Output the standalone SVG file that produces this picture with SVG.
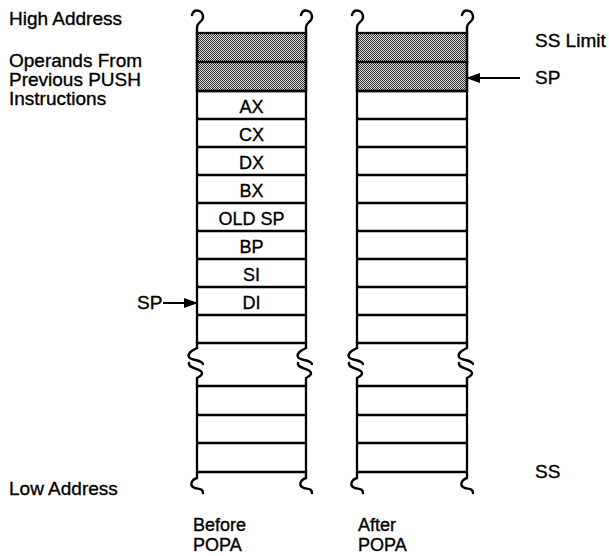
<svg xmlns="http://www.w3.org/2000/svg" width="609" height="556" viewBox="0 0 609 556">
<style>
.t{font-family:"Liberation Sans",Arial,sans-serif;font-size:19px;fill:#000;stroke:#000;stroke-width:0.35}
.c{font-family:"Liberation Sans",Arial,sans-serif;font-size:18px;fill:#000;stroke:#000;stroke-width:0.35;text-anchor:middle}
.b{font-family:"Liberation Sans",Arial,sans-serif;font-size:18px;fill:#000;stroke:#000;stroke-width:0.35}
.ln{stroke:#000;stroke-width:2.3;fill:none}
.sq{stroke:#000;stroke-width:2.4;fill:none;stroke-linecap:round}
.sh{fill:url(#hatch);stroke:#000;stroke-width:2.3}
.ar{stroke:#000;stroke-width:2;fill:none}
</style>
<defs>
<pattern id="hatch" width="2" height="2" patternUnits="userSpaceOnUse">
<rect width="2" height="2" fill="#e4e4e4"/>
<rect width="1" height="1" fill="#2a2a2a"/>
<rect x="1" y="1" width="1" height="1" fill="#2a2a2a"/>
</pattern>
<marker id="ah" markerWidth="14" markerHeight="10" refX="13" refY="5" orient="auto" markerUnits="userSpaceOnUse">
<path d="M0,0 L14,5 L0,10 Z" fill="#000"/>
</marker>
<g id="topSq"><path class="sq" d="M0,33 L0,27 C0,22 7,22 6,16 C5,10 -3,8 -5,15"/></g>
<g id="botSq"><path class="sq" d="M0,472 L0,478 C-6,480 -8,486 -2,488 C3,489 6,489 6,493"/></g>
<g id="brkSq"><path class="sq" d="M0,343 L0,348 C-4,350 -10,353 -8,357 C-6,361 4,359 6,364"/><path class="sq" d="M-8,363 C-9,367 -2,368 2,370 C8,373 4,376 0,378 L0,386"/></g>
</defs>

<text class="t" x="9" y="25">High Address</text>
<text class="t" x="9" y="67">Operands From</text>
<text class="t" x="9" y="86">Previous PUSH</text>
<text class="t" x="9" y="105">Instructions</text>
<text class="t" x="9" y="495">Low Address</text>
<text class="t" x="535" y="47">SS Limit</text>
<text class="t" x="535" y="84">SP</text>
<text class="t" x="535" y="478">SS</text>
<text class="t" x="137" y="309">SP</text>
<text class="b" x="193" y="531">Before</text>
<text class="b" x="193" y="551">POPA</text>
<text class="b" x="358" y="531">After</text>
<text class="b" x="358" y="551">POPA</text>

<g id="before-stack">
<rect class="sh" x="197" y="33" width="109" height="29"/>
<rect class="sh" x="197" y="62" width="109" height="29"/>
<path class="ln" d="M197,91 H306 M197,119 H306 M197,147 H306 M197,175 H306 M197,203 H306 M197,231 H306 M197,259 H306 M197,287 H306 M197,315 H306 M197,343 H306 M197,386 H306 M197,415 H306 M197,443 H306 M197,472 H306"/>
<path class="ln" d="M197,33 V343 M306,33 V343 M197,386 V472 M306,386 V472"/>
<use href="#topSq" x="197"/><use href="#topSq" x="306"/>
<use href="#brkSq" x="197"/><use href="#brkSq" x="306"/>
<use href="#botSq" x="197"/><use href="#botSq" x="306"/>
<g id="cell-ax"><text class="c" x="251.5" y="113">AX</text></g>
<g id="cell-cx"><text class="c" x="251.5" y="141">CX</text></g>
<g id="cell-dx"><text class="c" x="251.5" y="169">DX</text></g>
<g id="cell-bx"><text class="c" x="251.5" y="197">BX</text></g>
<g id="cell-oldsp"><text class="c" x="251.5" y="225">OLD SP</text></g>
<g id="cell-bp"><text class="c" x="251.5" y="253">BP</text></g>
<g id="cell-si"><text class="c" x="251.5" y="281">SI</text></g>
<g id="cell-di"><text class="c" x="251.5" y="309">DI</text></g>
</g>

<g id="after-stack">
<rect class="sh" x="357" y="33" width="110" height="29"/>
<rect class="sh" x="357" y="62" width="110" height="29"/>
<path class="ln" d="M357,91 H467 M357,119 H467 M357,147 H467 M357,175 H467 M357,203 H467 M357,231 H467 M357,259 H467 M357,287 H467 M357,315 H467 M357,343 H467 M357,386 H467 M357,415 H467 M357,443 H467 M357,472 H467"/>
<path class="ln" d="M357,33 V343 M467,33 V343 M357,386 V472 M467,386 V472"/>
<use href="#topSq" x="357"/><use href="#topSq" x="467"/>
<use href="#brkSq" x="357"/><use href="#brkSq" x="467"/>
<use href="#botSq" x="357"/><use href="#botSq" x="467"/>
</g>

<g id="connectors">
<line class="ar" x1="163" y1="303" x2="197" y2="303" marker-end="url(#ah)"/>
<line class="ar" x1="520" y1="78" x2="467" y2="78" marker-end="url(#ah)"/>
</g>
</svg>
